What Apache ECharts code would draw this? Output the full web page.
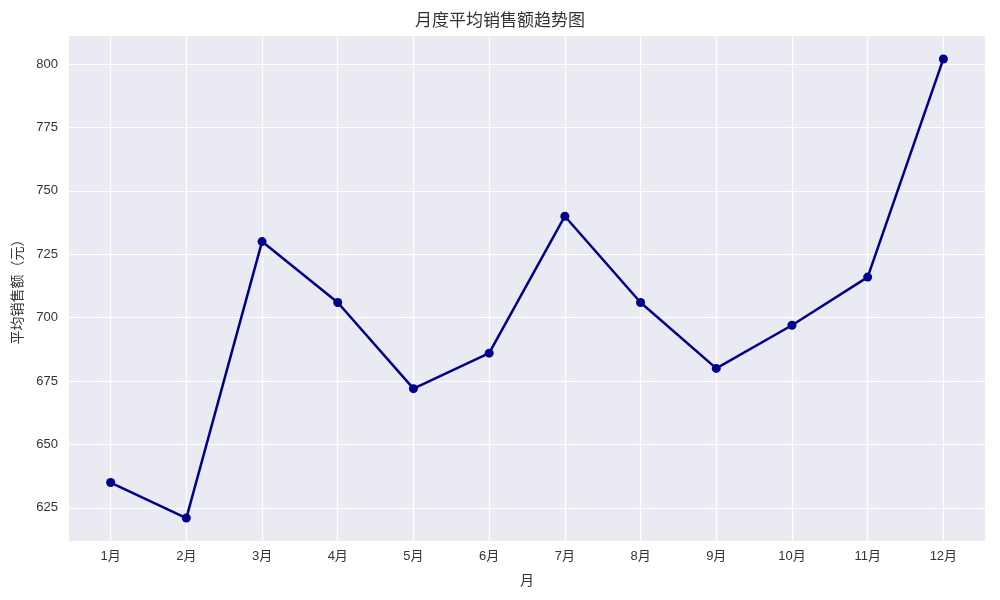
<!DOCTYPE html>
<html>
<head>
<meta charset="utf-8">
<script src="https://cdn.jsdelivr.net/npm/echarts@6/dist/echarts.min.js"></script>
<style>
  html, body { margin: 0; padding: 0; background: #fff; }
  #chart { width: 1000px; height: 600px; }
</style>
</head>
<body>
<div id="chart"></div>
<script>
// 月份与销售数据
var months = [1, 2, 3, 4, 5, 6, 7, 8, 9, 10, 11, 12];
var monthLabels = ['1月', '2月', '3月', '4月', '5月', '6月', '7月', '8月', '9月', '10月', '11月', '12月'];
var sales = [635, 621, 730, 706, 672, 686, 740, 706, 680, 697, 716, 802];
var yTicks = [625, 650, 675, 700, 725, 750, 775, 800];

var font = 'Liberation Sans, Noto Sans CJK SC, sans-serif';

var chart = echarts.init(document.getElementById('chart'));
var option = {
    animation: false,
    backgroundColor: '#fff',
    title: {
        text: '月度平均销售额趋势图',
        left: 'center',
        top: 8,
        textStyle: { color: '#333', fontSize: 17, fontWeight: 'normal', fontFamily: font }
    },
    grid: {
        left: 69, right: 15, top: 36, bottom: 59,
        show: true, backgroundColor: '#EAEAF2', borderWidth: 0
    },
    xAxis: {
        type: 'value',
        min: 0.45,
        max: 12.55,
        name: '月',
        nameLocation: 'middle',
        nameGap: 33,
        nameTextStyle: { color: '#333', fontSize: 14, fontFamily: font },
        axisLine: { show: false },
        axisTick: { show: false, customValues: months },
        axisLabel: {
            customValues: months,
            color: '#333', fontSize: 13, fontFamily: font, margin: 9,
            formatter: function (v) { return monthLabels[months.indexOf(v)]; }
        },
        splitLine: { show: true, customValues: months, lineStyle: { color: '#fff', width: 1.2 } }
    },
    yAxis: {
        type: 'value',
        min: 611.95,
        max: 811.05,
        name: '平均销售额（元）',
        nameLocation: 'middle',
        nameGap: 42,
        nameTextStyle: { color: '#333', fontSize: 14, fontFamily: font },
        axisLine: { show: false },
        axisTick: { show: false, customValues: yTicks },
        axisLabel: { customValues: yTicks, color: '#333', fontSize: 13, fontFamily: font, margin: 11 },
        splitLine: { show: true, customValues: yTicks, lineStyle: { color: '#fff', width: 1.2 } }
    },
    series: [{
        type: 'line',
        data: months.map(function (m, i) { return [m, sales[i]]; }),
        symbol: 'circle',
        symbolSize: 9,
        lineStyle: { color: '#00008B', width: 2.5 },
        itemStyle: { color: '#00008B' }
    }]
};
chart.setOption(option);
</script>
</body>
</html>
